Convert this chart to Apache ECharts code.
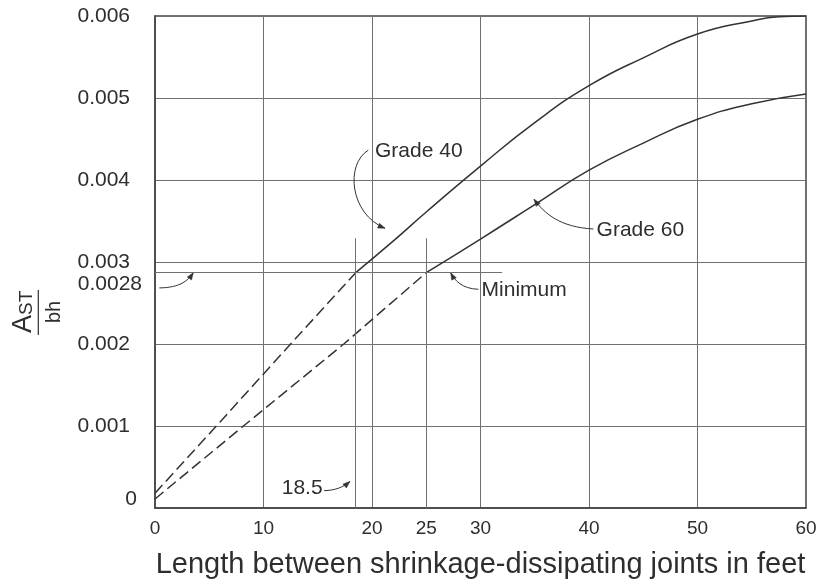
<!DOCTYPE html>
<html><head><meta charset="utf-8">
<script src="https://cdn.jsdelivr.net/npm/echarts@6/dist/echarts.min.js"></script>
<style>html,body{margin:0;padding:0;background:#fff}#c{width:829px;height:584px}</style>
</head><body><div id="c"></div>
<script>
// ---- tick labels ----
const xTickValues = [0, 10, 20, 25, 30, 40, 50, 60];
const yTickValues = [0, 0.001, 0.002, 0.0028, 0.003, 0.004, 0.005, 0.006];
const yTickLabels = ['0', '0.001', '0.002', '0.0028', '0.003', '0.004', '0.005', '0.006'];

// ---- curves ----
const grade40DashedX = [0, 6, 12.5, 18.5];
const grade40DashedY = [0.00018, 0.00105, 0.0020, 0.00287];
const grade40X = [18.5, 22, 25, 30, 35, 40, 45, 50, 55, 57.5, 60];
const grade40Y = [0.00287, 0.00326, 0.00361, 0.00417, 0.00470, 0.00515, 0.00549, 0.00578, 0.00594, 0.00599, 0.00600];
const grade60DashedX = [0, 8.15, 17.4, 25];
const grade60DashedY = [0.00011, 0.0010, 0.0020, 0.00287];
const grade60X = [25, 30, 35, 40, 45, 50, 55, 60];
const grade60Y = [0.00287, 0.00328, 0.00370, 0.00412, 0.00445, 0.00474, 0.00493, 0.00505];

// ---- guide lines ----
const minimumLevel = 0.00287;      // level where the "Minimum" line is drawn
const minimumLineEnd = 32;
const guideLineX = [18.5, 25];
const guideLineTop = 0.00329;

// ---- annotation anchors (data coordinates) ----
const noteTexts = [
  { text: 'Grade 40', at: [20.28, 0.00435] },
  { text: 'Grade 60', at: [40.70, 0.003384] },
  { text: 'Minimum', at: [30.10, 0.002655] },
  { text: '18.5', at: [11.68, 0.000244] }
];
const noteArrows = [
  [[19.66, 0.004364], [17.51, 0.00419], [17.97, 0.003584], [21.20, 0.003411]],
  [[40.40, 0.003402], [37.33, 0.003427], [35.94, 0.003584], [34.93, 0.003766]],
  [[29.80, 0.002667], [28.29, 0.002675], [27.65, 0.002772], [27.25, 0.002869]],
  [[0.40, 0.002684], [2.30, 0.002687], [3.04, 0.002772], [3.53, 0.002869]],
  [[15.58, 0.000211], [16.59, 0.000215], [17.33, 0.000251], [17.97, 0.000324]]
];

const FONT = 'Liberation Sans, Arial, Helvetica, sans-serif';
const TXT = '#2e2e2e';
const LINE = '#333';
const GRID = '#707070';

const zip = (xs, ys) => xs.map((x, i) => [x, ys[i]]);

const chart = echarts.init(document.getElementById('c'), null, { renderer: 'canvas' });

const labelRich = {
  n: { fontSize: 21, fontFamily: FONT, color: TXT, padding: [0, 12, 0, 0] },
  z: { fontSize: 21, fontFamily: FONT, color: TXT, padding: [0, 5, 17, 0] },
  m: { fontSize: 21, fontFamily: FONT, color: TXT, padding: [12, 0, 0, 0] }
};

const curveStyle = { color: LINE, width: 1.5 };

chart.setOption({
  animation: false,
  backgroundColor: '#fff',
  grid: { left: 155, right: 23, top: 16, bottom: 73, show: true, borderColor: '#444', borderWidth: 1.5, backgroundColor: 'transparent' },
  xAxis: {
    type: 'value', min: 0, max: 60, interval: 10,
    axisLine: { show: true, lineStyle: { color: '#444', width: 1.5 } },
    axisTick: { show: false },
    splitLine: { show: true, lineStyle: { color: GRID, width: 1 } },
    axisLabel: {
      customValues: xTickValues, margin: 11, fontSize: 19, fontFamily: FONT, color: TXT,
      formatter: v => String(Math.round(v))
    },
    name: 'Length between shrinkage-dissipating joints in feet',
    nameLocation: 'middle', nameGap: 42,
    nameTextStyle: { fontSize: 29, fontFamily: FONT, color: TXT }
  },
  yAxis: {
    type: 'value', min: 0, max: 0.006, interval: 0.001,
    axisLine: { show: true, lineStyle: { color: '#444', width: 1.5 } },
    axisTick: { show: false },
    splitLine: { show: true, lineStyle: { color: GRID, width: 1 } },
    axisLabel: {
      customValues: yTickValues, margin: 13,
      formatter: v => {
        const i = yTickValues.findIndex(t => Math.abs(t - v) < 1e-9);
        const s = i >= 0 ? yTickLabels[i] : '';
        if (s === '0') return '{z|0}';
        if (s === '0.0028') return '{m|0.0028}';
        return '{n|' + s + '}';
      },
      rich: labelRich
    }
  },
  series: [
    { type: 'line', name: 'Grade 40 dashed', data: zip(grade40DashedX, grade40DashedY), symbol: 'none', lineStyle: Object.assign({ type: [11, 5] }, curveStyle), silent: true },
    { type: 'line', name: 'Grade 40', data: zip(grade40X, grade40Y), symbol: 'none', smooth: 0.5, lineStyle: curveStyle, silent: true,
      markLine: {
        silent: true, symbol: 'none', label: { show: false },
        lineStyle: { color: GRID, width: 1, type: 'solid' },
        data: [
          [{ coord: [0, minimumLevel] }, { coord: [minimumLineEnd, minimumLevel] }],
          ...guideLineX.map(x => [{ coord: [x, 0] }, { coord: [x, guideLineTop] }])
        ]
      }
    },
    { type: 'line', name: 'Grade 60 dashed', data: zip(grade60DashedX, grade60DashedY), symbol: 'none', lineStyle: Object.assign({ type: [11, 5] }, curveStyle), silent: true },
    { type: 'line', name: 'Grade 60', data: zip(grade60X, grade60Y), symbol: 'none', smooth: 0.5, lineStyle: curveStyle, silent: true }
  ]
});

// ---- annotations placed through the chart's own coordinate conversion ----
const toPx = p => chart.convertToPixel({ gridIndex: 0 }, p);
const graphics = [];

noteTexts.forEach(n => {
  const p = toPx(n.at);
  graphics.push({
    type: 'text', x: p[0], y: p[1], silent: true,
    style: { text: n.text, fontSize: 21, fontFamily: FONT, fill: TXT, align: 'left', verticalAlign: 'middle' }
  });
});

noteArrows.forEach(a => {
  const [s, c1, c2, e] = a.map(toPx);
  graphics.push({
    type: 'bezierCurve', silent: true,
    shape: { x1: s[0], y1: s[1], cpx1: c1[0], cpy1: c1[1], cpx2: c2[0], cpy2: c2[1], x2: e[0], y2: e[1] },
    style: { stroke: LINE, lineWidth: 1, fill: null }
  });
  let dx = e[0] - c2[0], dy = e[1] - c2[1];
  const L = Math.hypot(dx, dy) || 1; dx /= L; dy /= L;
  const hl = 7, hw = 2.6;
  const bx = e[0] - dx * hl, by = e[1] - dy * hl;
  graphics.push({
    type: 'polygon', silent: true,
    shape: { points: [[e[0], e[1]], [bx - dy * hw, by + dx * hw], [bx + dy * hw, by - dx * hw]] },
    style: { fill: LINE, stroke: LINE, lineWidth: 0.5 }
  });
});

// y-axis title: A_ST / bh, rotated
graphics.push({
  type: 'group', x: 38.3, y: 312, rotation: Math.PI / 2, silent: true,
  children: [
    { type: 'text', x: -21, y: -14.5, style: { text: 'A', fontSize: 27, fontFamily: FONT, fill: TXT, align: 'left', verticalAlign: 'middle' } },
    { type: 'text', x: -3, y: -11.5, style: { text: 'ST', fontSize: 19, fontFamily: FONT, fill: TXT, align: 'left', verticalAlign: 'middle' } },
    { type: 'line', shape: { x1: -23, y1: 0, x2: 22, y2: 0 }, style: { stroke: TXT, lineWidth: 1.2 } },
    { type: 'text', x: 0, y: 16, style: { text: 'bh', fontSize: 20, fontFamily: FONT, fill: TXT, align: 'center', verticalAlign: 'middle' } }
  ]
});

chart.setOption({ graphic: graphics });
</script>
</body></html>
